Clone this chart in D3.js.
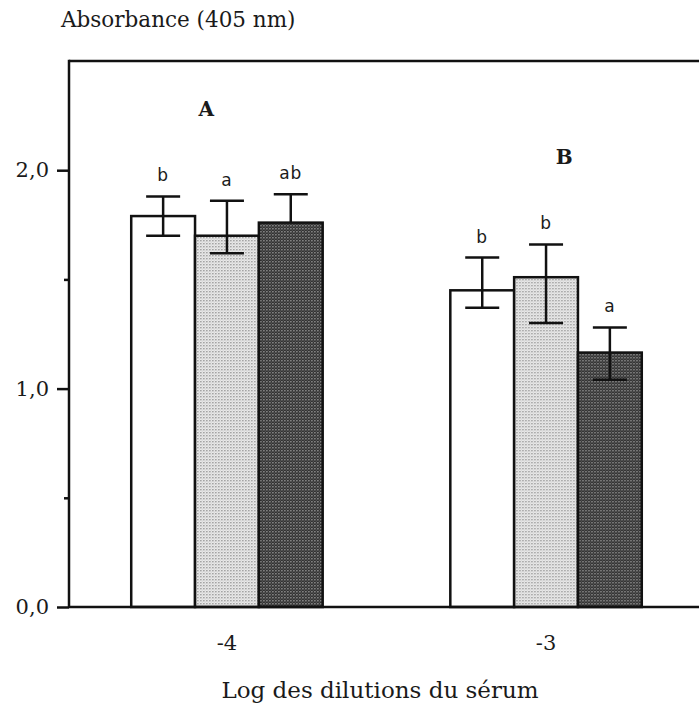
<!DOCTYPE html>
<html>
<head>
<meta charset="utf-8">
<script src="https://cdn.jsdelivr.net/npm/d3@7"></script>
<style>
  body { margin: 0; background: #fff; }
  text { fill: #1a1a1a; }
</style>
</head>
<body>
<svg id="chart" width="699" height="716"></svg>
<script>
// dilutions (log) and three sera per group
var dilutions = ["-4", "-3"];
var series = ["s1", "s2", "s3"];
var panelLabels = ["A", "B"];

// mean absorbance, per dilution, per serum
var means = [
    [1.79, 1.70, 1.76],
    [1.45, 1.51, 1.165]
];
var errHigh = [
    [1.88, 1.86, 1.89],
    [1.60, 1.66, 1.28]
];
var errLow = [
    [1.70, 1.62, 1.76],
    [1.37, 1.30, 1.04]
];
var letters = [
    ["b", "a", "ab"],
    ["b", "b", "a"]
];
var majorTicks = [0, 1, 2];
var minorTicks = [0.5, 1.5];

var svg = d3.select("#chart");
var margin = {left: 69, top: 61, bottom: 607, right: 704};

var defs = svg.append("defs");
// light dotted screen
var p1 = defs.append("pattern").attr("id", "light")
    .attr("patternUnits", "userSpaceOnUse").attr("width", 3).attr("height", 3);
p1.append("rect").attr("width", 3).attr("height", 3).attr("fill", "#efefef");
p1.append("rect").attr("x", 0).attr("y", 0).attr("width", 1.4).attr("height", 1.4).attr("fill", "#8f8f8f");
p1.append("rect").attr("x", 1.5).attr("y", 1.5).attr("width", 1.2).attr("height", 1.2).attr("fill", "#c4c4c4");
// dark checker screen
var p2 = defs.append("pattern").attr("id", "dark")
    .attr("patternUnits", "userSpaceOnUse").attr("width", 3).attr("height", 3);
p2.append("rect").attr("width", 3).attr("height", 3).attr("fill", "#262626");
p2.append("rect").attr("x", 0).attr("y", 0).attr("width", 1.5).attr("height", 1.5).attr("fill", "#9a9a9a");
p2.append("rect").attr("x", 1.5).attr("y", 1.5).attr("width", 1.5).attr("height", 1.5).attr("fill", "#555");

var fills = ["#ffffff", "url(#light)", "url(#dark)"];

var y = d3.scaleLinear().domain([0, 2.5]).range([margin.bottom, margin.top]);
var x = d3.scaleBand().domain(dilutions)
    .range([margin.left, margin.right])
    .paddingInner(0.4).paddingOuter(0.195);
var xs = d3.scaleBand().domain(series).range([0, x.bandwidth()]);

var serif = "'Palatino Linotype', Palatino, 'URW Palladio L', 'DejaVu Serif', serif";

// frame top line
svg.append("line")
    .attr("x1", margin.left).attr("x2", 699)
    .attr("y1", margin.top).attr("y2", margin.top)
    .attr("stroke", "#111").attr("stroke-width", 2.5);

var groups = svg.selectAll("g.grp")
    .data(dilutions)
    .enter().append("g")
    .attr("class", "grp")
    .attr("transform", function(d) { return "translate(" + x(d) + ",0)"; });

groups.each(function(dil, gi) {
    var g = d3.select(this);
    series.forEach(function(s, si) {
        var v = means[gi][si];
        var bx = xs(s);
        var cx = bx + xs.bandwidth() / 2;
        g.append("rect")
            .attr("x", bx).attr("width", xs.bandwidth())
            .attr("y", y(v)).attr("height", y(0) - y(v))
            .attr("fill", fills[si])
            .attr("stroke", "#111").attr("stroke-width", 2.5);
        // error bar
        var hi = errHigh[gi][si], lo = errLow[gi][si];
        g.append("line").attr("x1", cx).attr("x2", cx)
            .attr("y1", y(hi)).attr("y2", y(lo))
            .attr("stroke", "#111").attr("stroke-width", 2.5);
        g.append("line").attr("x1", cx - 17).attr("x2", cx + 17)
            .attr("y1", y(hi)).attr("y2", y(hi))
            .attr("stroke", "#111").attr("stroke-width", 2.5);
        if (lo < v) {
            g.append("line").attr("x1", cx - 17).attr("x2", cx + 17)
                .attr("y1", y(lo)).attr("y2", y(lo))
                .attr("stroke", "#111").attr("stroke-width", 2.5);
        }
        g.append("text")
            .attr("x", cx).attr("y", y(hi) - 15)
            .attr("text-anchor", "middle")
            .style("font-family", "'DejaVu Sans', Verdana, sans-serif")
            .style("font-size", "17px")
            .style("letter-spacing", "1px")
            .text(letters[gi][si]);
    });
});

// panel letters A and B
svg.selectAll("text.panel")
    .data(panelLabels)
    .enter().append("text")
    .attr("class", "panel")
    .attr("x", function(d, i) { return x(dilutions[i]) + xs("s1") + (i == 0 ? 75 : 114); })
    .attr("y", function(d, i) { return i == 0 ? 116 : 164; })
    .attr("text-anchor", "middle")
    .style("font-family", serif)
    .style("font-weight", "bold")
    .style("font-size", "20px")
    .text(function(d) { return d; });

// y axis
var yAxis = svg.append("g")
    .attr("transform", "translate(" + margin.left + ",0)")
    .call(d3.axisLeft(y).tickValues(majorTicks).tickSize(12).tickPadding(8)
        .tickFormat(function(d) { return d3.format(".1f")(d).replace(".", ","); }));
yAxis.select(".domain").remove();
yAxis.selectAll("line").attr("stroke", "#111").attr("stroke-width", 2.5);
yAxis.selectAll("text").style("font-family", serif).style("font-size", "21px").attr("fill", "#1a1a1a");

var yMinor = svg.append("g")
    .attr("transform", "translate(" + margin.left + ",0)")
    .call(d3.axisLeft(y).tickValues(minorTicks).tickSize(5).tickFormat(""));
yMinor.select(".domain").remove();
yMinor.selectAll("line").attr("stroke", "#111").attr("stroke-width", 2.5);

svg.append("line")
    .attr("x1", margin.left).attr("x2", margin.left)
    .attr("y1", margin.top - 1.2).attr("y2", margin.bottom)
    .attr("stroke", "#111").attr("stroke-width", 2.5);

// x axis baseline + category labels
var xAxis = svg.append("g")
    .attr("transform", "translate(0," + margin.bottom + ")")
    .call(d3.axisBottom(x).tickSize(0).tickPadding(28));
xAxis.select(".domain").remove();
xAxis.selectAll("text").style("font-family", serif).style("font-size", "21px").attr("fill", "#1a1a1a");
svg.append("line")
    .attr("x1", margin.left).attr("x2", 699)
    .attr("y1", margin.bottom).attr("y2", margin.bottom)
    .attr("stroke", "#111").attr("stroke-width", 2.5);

// titles
svg.append("text")
    .attr("x", 61).attr("y", 27)
    .style("font-family", serif).style("font-size", "21.5px")
    .text("Absorbance (405 nm)");
svg.append("text")
    .attr("x", 380).attr("y", 698)
    .attr("text-anchor", "middle")
    .style("font-family", serif).style("font-size", "23px")
    .text("Log des dilutions du sérum");
</script>
</body>
</html>
